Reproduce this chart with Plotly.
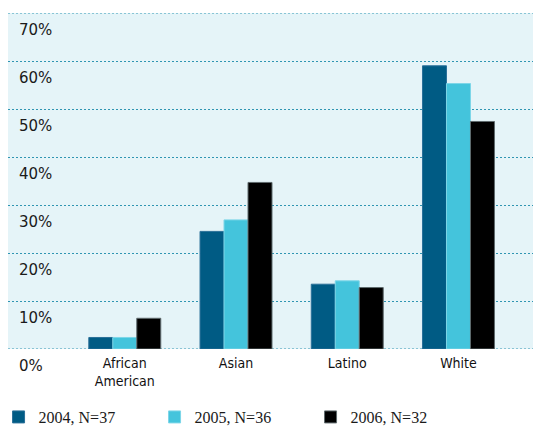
import plotly.graph_objects as go

categories = ["African<br>American", "Asian", "Latino", "White"]
series_names = ["2004, N=37", "2005, N=36", "2006, N=32"]
values_2004 = [2.4, 24.5, 13.5, 59.0]
values_2005 = [2.4, 26.9, 14.2, 55.3]
values_2006 = [6.4, 34.7, 12.8, 47.4]
y_tick_values = [0, 10, 20, 30, 40, 50, 60, 70]
y_tick_labels = ["0%", "10%", "20%", "30%", "40%", "50%", "60%", "70%"]

colors = ["#005b84", "#44c4dc", "#000000"]
edge_colors = ["#2a7099", "#7dd6e8", "#5f6a6d"]
grid_color = "#2f95b2"
grid_dash = "2px,2px"

fig = go.Figure()
for name, vals, c, ec in zip(series_names, [values_2004, values_2005, values_2006], colors, edge_colors):
    fig.add_trace(go.Bar(
        x=list(range(len(categories))), y=vals, name=name,
        marker=dict(color=c, line=dict(color=ec, width=1)),
    ))

for v, lab in zip(y_tick_values, y_tick_labels):
    fig.add_annotation(
        x=0, xref="paper", xshift=9, y=v, yref="y", yshift=-17,
        text=lab, showarrow=False, xanchor="left", yanchor="middle",
        font=dict(family="DejaVu Sans", size=15, color="#1a1a1a"),
    )

# edge gridlines (at range limits, which plotly does not draw)
for v in (y_tick_values[0], y_tick_values[-1]):
    fig.add_shape(
        type="line", xref="paper", x0=0, x1=1, yref="y", y0=v, y1=v,
        line=dict(color=grid_color, width=1, dash=grid_dash), layer="below",
    )

fig.update_layout(
    width=533, height=426,
    margin=dict(l=8, r=0, t=13, b=77, autoexpand=False),
    paper_bgcolor="white",
    plot_bgcolor="#e5f4f8",
    barmode="group",
    bargap=0.353,
    bargroupgap=0,
    showlegend=True,
    legend=dict(
        orientation="h", x=-0.018, xanchor="left", y=-0.2024, yanchor="middle",
        font=dict(family="Liberation Serif", size=16, color="#1a1a1a"),
        entrywidth=111, entrywidthmode="pixels",
        bgcolor="rgba(0,0,0,0)",
    ),
    xaxis=dict(
        tickmode="array", tickvals=list(range(len(categories))), ticktext=categories,
        range=[-1.05, 3.67], showgrid=False, zeroline=False, showline=False,
        ticks="", ticklabelstandoff=4,
        tickfont=dict(family="DejaVu Sans Condensed", size=14, color="#111111"),
        fixedrange=True,
    ),
    yaxis=dict(
        range=[0, 70], tickvals=y_tick_values, showticklabels=False,
        showgrid=True, gridcolor=grid_color, gridwidth=1, griddash=grid_dash,
        zeroline=False, showline=False, ticks="",
    ),
)

fig.write_html("out.html")
